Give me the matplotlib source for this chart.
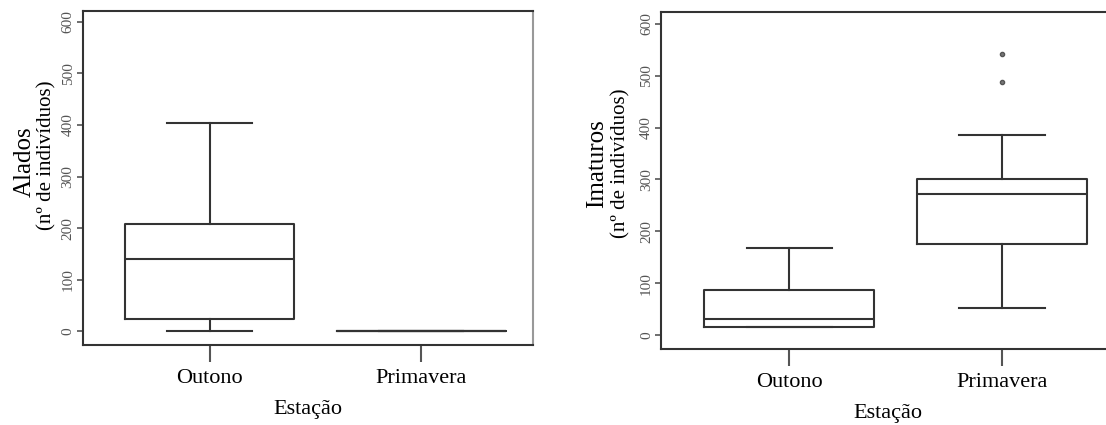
import matplotlib.pyplot as plt

plt.rcParams['font.family'] = ['Liberation Serif', 'DejaVu Serif']

# estimated box statistics
estacoes = ['Outono', 'Primavera']

alados_whislo = [0, 0]
alados_q1 = [24, 0]
alados_med = [140, 0]
alados_q3 = [207, 0]
alados_whishi = [404, 0]
alados_fliers = [[], []]

imaturos_whislo = [15, 52]
imaturos_q1 = [15, 176]
imaturos_med = [31, 271]
imaturos_q3 = [87, 300]
imaturos_whishi = [168, 386]
imaturos_fliers = [[], [487, 542]]

yticks = [0, 100, 200, 300, 400, 500, 600]

line_col = '#333333'
tick_col = '#555555'


def make_stats(lo, q1, med, q3, hi, fl):
    stats = []
    for i in range(len(estacoes)):
        stats.append(dict(whislo=lo[i], q1=q1[i], med=med[i], q3=q3[i],
                          whishi=hi[i], fliers=fl[i], label=estacoes[i]))
    return stats


def draw(ax, stats, ylim):
    lp = dict(color=line_col, linewidth=1.5)
    ax.bxp(stats, positions=[1, 2], widths=0.8, showfliers=True,
           boxprops=lp, medianprops=lp, whiskerprops=lp, capprops=lp,
           flierprops=dict(marker='o', markersize=3, markerfacecolor='#777777',
                           markeredgecolor='#555555', linestyle='none'))
    ax.set_xlim(0.4, 2.53)
    ax.set_ylim(*ylim)
    ax.set_yticks(yticks)
    ax.set_yticklabels([str(t) for t in yticks], rotation=90, va='center',
                       color=tick_col, fontsize=11)
    ax.tick_params(axis='y', length=4, color=tick_col, width=1.2, pad=2)
    ax.tick_params(axis='x', length=12, color=tick_col, width=1.5, labelsize=16, pad=5)
    for s in ax.spines.values():
        s.set_color(line_col)
        s.set_linewidth(1.5)
    ax.spines['right'].set_color('#999999')
    ax.set_xlabel('Estação', fontsize=16, labelpad=9)


fig = plt.figure(figsize=(11.06, 4.25), dpi=100)

ax1 = fig.add_axes([0.075, 0.188, 0.407, 0.786])
draw(ax1, make_stats(alados_whislo, alados_q1, alados_med, alados_q3,
                     alados_whishi, alados_fliers), (-27, 621))
fig.text(0.022, 0.62, 'Alados', rotation=90, fontsize=18, ha='center', va='center')
fig.text(0.042, 0.635, '(nº de indivíduos)', rotation=90, fontsize=15, ha='center', va='center')

ax2 = fig.add_axes([0.598, 0.179, 0.41, 0.793])
draw(ax2, make_stats(imaturos_whislo, imaturos_q1, imaturos_med, imaturos_q3,
                     imaturos_whishi, imaturos_fliers), (-27, 623))
fig.text(0.540, 0.615, 'Imaturos', rotation=90, fontsize=18, ha='center', va='center')
fig.text(0.561, 0.615, '(nº de indivíduos)', rotation=90, fontsize=15, ha='center', va='center')

fig.savefig('out.png', dpi=100)
